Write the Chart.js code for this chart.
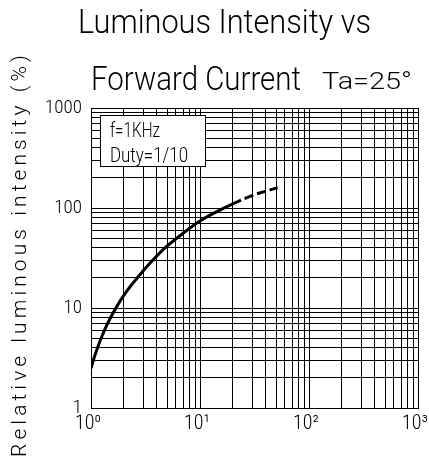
<!DOCTYPE html>
<html>
<head>
<meta charset="utf-8">
<script src="https://cdn.jsdelivr.net/npm/chart.js@4.4.0/dist/chart.umd.min.js"></script>
<style>
  html, body { margin: 0; padding: 0; background: #fff; }
  #wrap { width: 429px; height: 461px; }
</style>
</head>
<body>
<div id="wrap"><canvas id="chart" width="429" height="461"></canvas></div>
<script>
/* ── DATA ── */
// forward current IF (mA) vs relative luminous intensity (%)
const currentSolid    = [1, 1.1, 1.25, 1.5, 2, 3, 4, 5, 7, 10, 14, 20];
const intensitySolid  = [2.5, 3.5, 5.1, 7.9, 13.4, 23.4, 33, 41.7, 56, 74, 91, 110];
const currentDashed   = [30, 40, 54];
const intensityDashed = [133, 147, 162];

const decades   = [1, 10, 100, 1000];
const xLabels   = ['10⁰', '10¹', '10²', '10³'];
const yLabels   = ['1', '10', '100', '1000'];
const mantissas = [1, 2, 3, 4, 5, 6, 7, 8, 9];

// log grid: 1..9, 10..90, 100..900, 1000
const gridValues = decades.slice(0, 3).flatMap(d => mantissas.map(m => m * d)).concat([1000]);

const curve = currentSolid.concat(currentDashed).map((x, i) => ({
  x: x,
  y: intensitySolid.concat(intensityDashed)[i]
}));
const dashFrom = currentSolid.length - 1; // dashed after the last solid point

/* ── TEXT OVERLAY ── */
const FONT = 'Roboto, "DejaVu Sans", sans-serif';
const NARROW = '"Roboto Condensed", "Liberation Sans Narrow", Roboto, "Liberation Sans", sans-serif';

// draw text squeezed to a given width (the original uses a narrow CAD font)
function fitText(ctx, text, x, y, size, width) {
  ctx.save();
  ctx.font = '300 ' + size + 'px ' + FONT;
  const w = ctx.measureText(text).width;
  ctx.translate(x, y);
  ctx.scale(width / w, 1);
  ctx.textAlign = 'left';
  ctx.textBaseline = 'alphabetic';
  ctx.fillText(text, 0, 0);
  ctx.restore();
}

const overlay = {
  id: 'overlay',
  afterDraw(chart) {
    const ctx = chart.ctx;
    ctx.save();
    ctx.fillStyle = '#000';

    fitText(ctx, 'Luminous Intensity vs', 78, 33, 34, 293);
    fitText(ctx, 'Forward Current', 91, 90, 34, 210);
    fitText(ctx, 'Ta=25°', 322, 89, 24, 90);

    // conditions box
    ctx.fillStyle = '#fff';
    ctx.fillRect(100, 115, 105, 51);
    ctx.strokeStyle = '#000';
    ctx.lineWidth = 1;
    ctx.strokeRect(100.5, 115.5, 105, 51);
    ctx.fillStyle = '#000';
    fitText(ctx, 'f=1KHz', 110, 137, 21, 50);
    fitText(ctx, 'Duty=1/10', 110, 162, 21, 78);

    // y axis title, spread out like the original lettering
    const title = 'Relative luminous intensity (%)';
    ctx.translate(21, 254);
    ctx.rotate(-Math.PI / 2);
    ctx.font = '300 21px ' + FONT;
    const w = ctx.measureText(title).width;
    ctx.letterSpacing = ((406 - w) / title.length).toFixed(2) + 'px';
    ctx.textAlign = 'center';
    ctx.textBaseline = 'middle';
    ctx.fillText(title, 0, 0);
    ctx.restore();
  }
};

/* ── CHART ── */
new Chart(document.getElementById('chart'), {
  type: 'scatter',
  data: {
    datasets: [{
      data: curve,
      showLine: true,
      borderColor: '#000',
      borderWidth: 3,
      pointRadius: 0,
      tension: 0.4,
      segment: { borderDash: c => c.p0DataIndex >= dashFrom ? [9, 4] : undefined }
    }]
  },
  options: {
    responsive: false,
    animation: false,
    layout: { padding: { top: 108, right: 11, left: 0, bottom: 0 } },
    plugins: { legend: { display: false }, tooltip: { enabled: false } },
    scales: {
      x: {
        type: 'logarithmic',
        min: 1,
        max: 1000,
        afterBuildTicks: s => { s.ticks = gridValues.map(v => ({ value: v })); },
        afterFit: s => { s.height = 53; s.paddingLeft = 0; s.paddingRight = 0; },
        grid: { color: '#000', lineWidth: 1, drawTicks: false },
        border: { color: '#000', width: 1 },
        ticks: {
          autoSkip: false,
          maxRotation: 0,
          padding: 4,
          labelOffset: -3,
          color: '#000',
          font: { family: NARROW, size: 20, weight: 300 },
          callback: v => { const i = decades.indexOf(v); return i >= 0 ? xLabels[i] : ''; }
        }
      },
      y: {
        type: 'logarithmic',
        min: 1,
        max: 1000,
        afterBuildTicks: s => { s.ticks = gridValues.map(v => ({ value: v })); },
        afterFit: s => { s.width = 91; s.paddingTop = 0; s.paddingBottom = 0; },
        grid: { color: '#000', lineWidth: 1, drawTicks: false },
        border: { color: '#000', width: 1 },
        ticks: {
          autoSkip: false,
          padding: 9,
          color: '#000',
          font: { family: NARROW, size: 19, weight: 300 },
          callback: v => { const i = decades.indexOf(v); return i >= 0 ? yLabels[i] : ''; }
        }
      }
    }
  },
  plugins: [overlay]
});
</script>
</body>
</html>
